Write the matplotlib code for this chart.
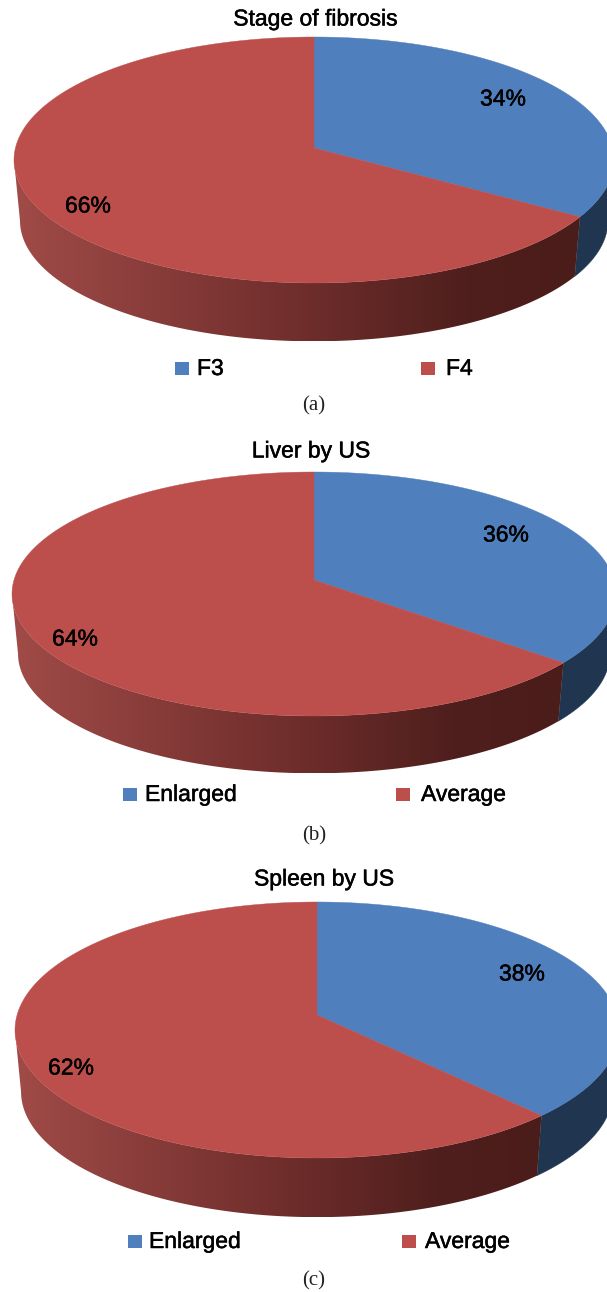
import numpy as np
import matplotlib
matplotlib.use("Agg")
import matplotlib.pyplot as plt
import matplotlib.patheffects as pe
from matplotlib.colors import LinearSegmentedColormap
from matplotlib.patches import Polygon, Rectangle

W, H = 607, 1292

# Chart data
titles = ["Stage of fibrosis", "Liver by US", "Spleen by US"]
captions = ["(a)", "(b)", "(c)"]
category_names = [["F3", "F4"], ["Enlarged", "Average"], ["Enlarged", "Average"]]
first_share = [34, 36, 38]
second_share = [66, 64, 62]

# Layout of each panel, in pixels
apex = [(314, 148), (314, 580), (317, 1015)]
reach_up = [111, 108, 113]
reach_down = [135, 136, 143]
half_width = [300, 302, 302]
wall_depth = [61, 60, 62]
title_pos = [(315.5, 19), (311, 451), (324, 879)]
caption_pos = [(314, 406), (314, 836), (314, 1281)]
label_pos = [[(503, 99), (88, 206)], [(506, 535), (75, 639)], [(522, 974), (71, 1068)]]
legend_y = [368, 794, 1241]
legend_swatch_x = [(175, 421), (123, 396), (128, 402)]
legend_text_x = [(197, 446), (145, 421), (149, 425)]

BLUE = "#4f7fbd"
RED = "#bc4f4c"
WALL_BLUE = "#1f3550"
wall_red = LinearSegmentedColormap.from_list(
    "wall", [(0, "#a04b48"), (0.5, "#702e2c"), (0.8, "#4f1f1d"), (1, "#4a1c1a")])
SANS = "Liberation Sans"
SERIF = "Liberation Serif"
WALL_SHRINK = 0.98
HEAVY = [pe.withStroke(linewidth=0.35, foreground="black")]

fig = plt.figure(figsize=(W / 100, H / 100), dpi=100)
ax = fig.add_axes([0, 0, 1, 1])


def rim(theta, up, down, width):
    """Project rim angles (clockwise from 12 o'clock) onto a tilted disc."""
    k = (down - up) / (down + up)
    a = up * (1 + k)
    r = width * np.sqrt(1 - k * k)
    u, v = np.sin(theta), np.cos(theta)
    d = 1 + k * v
    return r * u / d, -a * v / d


for i in range(3):
    cx, cy = apex[i]
    up, down, width = reach_up[i], reach_down[i], half_width[i]
    k = (down - up) / (down + up)
    total = first_share[i] + second_share[i]
    split = 2 * np.pi * first_share[i] / total
    sil_right = np.arccos(-k)
    sil_left = 2 * np.pi - sil_right

    def wall_outline(t0, t1):
        t = np.linspace(t0, t1, 300)
        x, y = rim(t, up, down, width)
        top = np.c_[cx + x, cy + y]
        low = np.c_[cx + x * WALL_SHRINK, cy + y * WALL_SHRINK + wall_depth[i]]
        return np.vstack([top, low[::-1]])

    # Side wall of the first slice
    ax.add_patch(Polygon(wall_outline(sil_right, split), closed=True,
                         color=WALL_BLUE, lw=0.3, zorder=1))

    # Side wall of the second slice, shaded from left to right
    outline = wall_outline(split, sil_left)
    x0, x1 = outline[:, 0].min(), outline[:, 0].max()
    y0, y1 = outline[:, 1].min(), outline[:, 1].max()
    ramp = np.linspace(0, 1, 512)[None, :]
    img = ax.imshow(ramp, cmap=wall_red, extent=(x0, x1, y1, y0), aspect="auto",
                    vmin=0, vmax=1, zorder=2, interpolation="bilinear")
    clip = Polygon(outline, closed=True, transform=ax.transData)
    img.set_clip_path(clip)

    # Top faces
    for t0, t1, col in [(0, split, BLUE), (split, 2 * np.pi, RED)]:
        t = np.linspace(t0, t1, 300)
        x, y = rim(t, up, down, width)
        ax.fill(np.r_[cx, cx + x], np.r_[cy, cy + y], color=col, lw=0.3, zorder=3)

    ax.text(*title_pos[i], titles[i], family=SANS, fontsize=16.5, ha="center",
            va="center", color="black", path_effects=HEAVY)

    shares = [first_share[i], second_share[i]]
    for (lx, ly), s in zip(label_pos[i], shares):
        ax.text(lx, ly, f"{s}%", family=SANS, fontsize=16.5, ha="center",
                va="center", color="black", zorder=5, path_effects=HEAVY)

    for sx, tx, name, col in zip(legend_swatch_x[i], legend_text_x[i],
                                 category_names[i], [BLUE, RED]):
        ax.add_patch(Rectangle((sx, legend_y[i] - 6.5), 14, 13, color=col, lw=0))
        ax.text(tx, legend_y[i] + 0.5, name, family=SANS, fontsize=16.5, ha="left",
                va="center", color="black", path_effects=HEAVY)

    ax.text(caption_pos[i][0], caption_pos[i][1], captions[i], family=SERIF,
            fontsize=15, ha="center", va="center", color="#222222")

ax.set_xlim(0, W)
ax.set_ylim(H, 0)
ax.axis("off")

fig.savefig("out.png", dpi=100)
